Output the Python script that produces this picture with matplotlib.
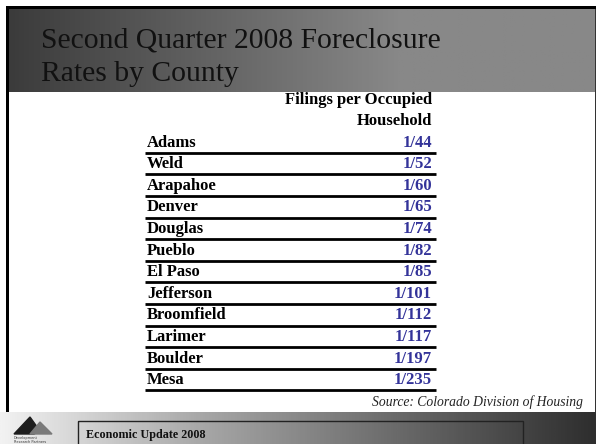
import numpy as np
import matplotlib
matplotlib.use("Agg")
import matplotlib.pyplot as plt
from matplotlib.colors import LinearSegmentedColormap
from matplotlib.patches import Rectangle, Polygon

# ---- data ----
title_lines = ["Second Quarter 2008 Foreclosure", "Rates by County"]
header_lines = ["Filings per Occupied", "Household"]
counties = ["Adams", "Weld", "Arapahoe", "Denver", "Douglas", "Pueblo",
            "El Paso", "Jefferson", "Broomfield", "Larimer", "Boulder", "Mesa"]
denominators = [44, 52, 60, 65, 74, 82, 85, 101, 112, 117, 197, 235]
source_text = "Source: Colorado Division of Housing"
footer_text = "Economic Update 2008"

W, H = 596, 444
fig = plt.figure(figsize=(W / 100, H / 100), dpi=100)
ax = fig.add_axes([0, 0, 1, 1])
ax.set_xlim(0, W)
ax.set_ylim(H, 0)
ax.axis("off")
fig.patch.set_facecolor("white")

serif = ["Liberation Serif", "DejaVu Serif"]

# ---- title band gradient ----
grad = np.clip(np.linspace(0, 1.5, 600), 0, 1)[None, :]
cm_title = LinearSegmentedColormap.from_list("t", ["#3b3b3b", "#888888"])
ax.imshow(grad, cmap=cm_title, extent=(8, 595, 92, 8), aspect="auto",
          interpolation="bilinear", zorder=1)
# borders
ax.add_patch(Rectangle((6, 6), W - 6, 3, color="black", zorder=3, lw=0))
ax.add_patch(Rectangle((6, 6), 3, 406, color="black", zorder=3, lw=0))
ax.add_patch(Rectangle((594.5, 9), 1.2, 403, color="#333333", zorder=3, lw=0))

for i, line in enumerate(title_lines):
    ax.text(41, 41 + i * 33, line, fontsize=21.3, family=serif, color="#111111",
            va="center", ha="left", zorder=4)

# ---- footer band gradient ----
fgrad = np.linspace(0, 1, 600)[None, :]
cm_foot = LinearSegmentedColormap.from_list("f", ["#f2f2f2", "#a8a8a8", "#6a6a6a", "#2e2e2e"])
ax.imshow(fgrad, cmap=cm_foot, extent=(0, W, H, 412), aspect="auto",
          interpolation="bilinear", zorder=1)
ax.add_patch(Rectangle((78, 421), 445, 30, fill=False, ec="#222222", lw=1.0, zorder=3))
ax.text(86, 435, footer_text, fontsize=8.7, family=serif, weight="bold",
        color="#111111", va="center", ha="left", zorder=4)

# logo
ax.add_patch(Polygon([(14, 434), (30, 417), (40, 431), (34, 434)], closed=True,
                     color="#1e1e1e", zorder=4))
ax.add_patch(Polygon([(30, 434), (40, 422), (52, 434)], closed=True,
                     color="#7a7a7a", zorder=4))
ax.text(14, 437.5, "Development", fontsize=2.5, color="#333333", va="center", zorder=4)
ax.text(14, 441.5, "Research Partners", fontsize=2.5, color="#333333", va="center", zorder=4)

# ---- table ----
x_left, x_right, x_line_end = 147, 432, 436
row_text0, row_h = 142.5, 21.6
fs = 12

for j, h in enumerate(header_lines):
    ax.text(x_right, 100 + j * 20.5, h, fontsize=fs, family=serif, weight="bold",
            color="black", ha="right", va="center", zorder=4)

for i, (name, d) in enumerate(zip(counties, denominators)):
    y = row_text0 + i * row_h
    ax.text(x_left, y, name, fontsize=fs, family=serif, weight="bold",
            color="black", ha="left", va="center", zorder=4)
    ax.text(x_right, y, f"1/{d}", fontsize=fs, family=serif, weight="bold",
            color="#333399", ha="right", va="center", zorder=4)
    ax.plot([145, x_line_end], [y + 10.3, y + 10.3], color="black", lw=2.0,
            solid_capstyle="butt", zorder=4)

ax.text(583, 402, source_text, fontsize=9.8, family=serif, style="italic",
        color="#222222", ha="right", va="center", zorder=4)

fig.savefig("out.png", dpi=100, facecolor="white")
